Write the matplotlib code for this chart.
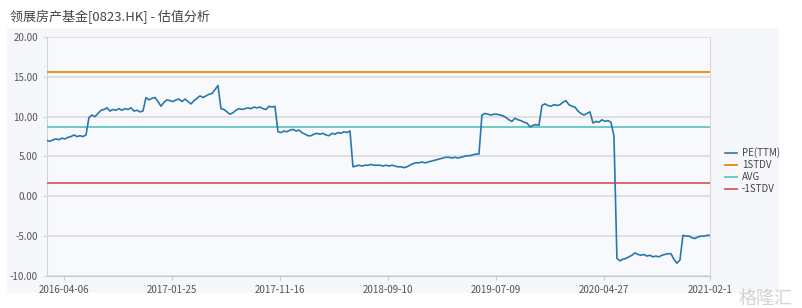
import numpy as np
import matplotlib.pyplot as plt
from matplotlib.patches import Rectangle

plt.rcParams['font.family'] = ['Noto Sans CJK SC', 'DejaVu Sans']

title = "领展房产基金[0823.HK] - 估值分析"

# PE(TTM), one reading every few trading days
pe = [7.0, 6.9, 7.1, 7.2, 7.1, 7.3, 7.2, 7.4, 7.5, 7.7, 7.5, 7.6, 7.5, 7.7,
      9.9, 10.2, 10.0, 10.4, 10.8, 10.9, 11.1, 10.7, 10.9, 10.8, 11.0, 10.8,
      11.0, 10.9, 11.1, 10.7, 10.8, 10.6, 10.7,
      12.4, 12.1, 12.3, 12.4, 11.9, 11.3, 11.8, 12.1, 12.0, 11.9, 12.1, 12.2,
      11.9, 12.2, 11.9, 11.6, 12.0, 12.3, 12.6, 12.4, 12.6, 12.8, 12.9, 13.4,
      13.9,
      11.0, 10.9, 10.6, 10.3, 10.5, 10.8, 11.0, 10.9, 11.0, 11.1, 11.0, 11.2,
      11.1, 11.2, 11.0, 10.9, 11.3, 11.2, 11.3,
      8.1, 8.0, 8.2, 8.1, 8.3, 8.4, 8.2, 8.3, 8.0, 7.8, 7.6, 7.6, 7.8, 7.9,
      7.8, 7.9, 7.7, 7.6, 7.9, 7.8, 8.0, 7.9, 8.1, 8.0, 8.2,
      3.7, 3.8, 3.9, 3.8, 3.9, 3.9, 4.0, 3.9, 3.9, 3.9, 3.8, 3.9, 3.8, 3.9,
      3.8, 3.7, 3.7, 3.6, 3.7, 3.9, 4.1, 4.2, 4.2, 4.3, 4.2, 4.3, 4.4, 4.5,
      4.6, 4.7, 4.8, 4.9, 4.9, 4.8, 4.9, 4.8, 4.9, 5.0, 5.1, 5.1, 5.2, 5.3,
      5.3,
      10.2, 10.4, 10.3, 10.2, 10.3, 10.3, 10.2, 10.1, 9.9, 9.6, 9.4, 9.8,
      9.6, 9.5, 9.3, 9.2, 8.7, 8.9, 9.0, 8.9,
      11.4, 11.6, 11.4, 11.3, 11.5, 11.4, 11.5, 11.8, 12.0, 11.5, 11.3, 11.2,
      10.7, 10.4, 10.2, 10.4, 10.6, 9.2, 9.4, 9.3, 9.6, 9.4, 9.5, 9.3, 7.6,
      -7.8, -8.1, -7.9, -7.8, -7.6, -7.4, -7.1, -7.3, -7.4, -7.3, -7.5, -7.4,
      -7.6, -7.5, -7.6, -7.4, -7.3, -7.2, -7.2, -7.9, -8.4, -8.0,
      -4.9, -5.0, -5.0, -5.2, -5.3, -5.1, -5.0, -5.0, -4.9, -4.9]

stdv_up = 15.6
avg = 8.7
stdv_down = 1.7

tick_labels = ["2016-04-06", "2017-01-25", "2017-11-16", "2018-09-10",
               "2019-07-09", "2020-04-27", "2021-02-1"]

fig = plt.figure(figsize=(8.02, 3.08), dpi=100)
fig.patch.set_facecolor('white')
fig.patches.append(Rectangle((0.009, 0.05), 0.962, 0.86, transform=fig.transFigure,
                             facecolor='#f5f7fb', edgecolor='none', zorder=-10))
fig.text(0.012, 0.945, title, fontsize=9.4, color='#444444', va='center')

ax = fig.add_axes([0.0586, 0.104, 0.8266, 0.776])
ax.set_facecolor('#f8f9fc')

x = np.arange(len(pe))
n = len(pe) - 1
ax.axhline(stdv_up, color='#f28a1e', lw=1.4, label='1STDV', zorder=3)
ax.axhline(avg, color='#6ec9c6', lw=1.4, label='AVG', zorder=3)
ax.axhline(stdv_down, color='#e26565', lw=1.4, label='-1STDV', zorder=3)
ax.plot(x, pe, color='#2a78a8', lw=1.2, label='PE(TTM)', zorder=4)

ax.set_xlim(0, n)
ax.set_ylim(-10, 20)
ax.set_yticks(np.arange(-10, 21, 5))
ax.set_yticklabels(["%.2f" % v for v in np.arange(-10, 21, 5)])
ticks = [min(5.7 + 36 * k, n) for k in range(len(tick_labels))]
ax.set_xticks(ticks)
ax.set_xticklabels(tick_labels)
ax.tick_params(axis='both', labelsize=7, colors='#555555', length=3)
ax.tick_params(axis='x', color='#b8cde0')
ax.tick_params(axis='y', color='#d0d8e0')
ax.grid(axis='y', color='#dcdcdc', lw=1.2)
ax.set_axisbelow(True)
ax.spines['top'].set_visible(False)
ax.spines['left'].set_color('#c8d6e4')
ax.spines['bottom'].set_color('#b8cde0')
ax.spines['right'].set_color('#d8d8d8')

handles, labels = ax.get_legend_handles_labels()
order = [3, 0, 1, 2]
ax.legend([handles[i] for i in order], [labels[i] for i in order],
          loc='center left', bbox_to_anchor=(1.01, 0.44), frameon=False,
          fontsize=7, handlelength=1.2, handletextpad=0.5, labelspacing=0.2,
          labelcolor='#444444')

fig.text(0.955, 0.03, "格隆汇", fontsize=13, color='#c8c8c8', alpha=0.8,
         ha='center', va='center')

fig.savefig("out.png", dpi=100)
